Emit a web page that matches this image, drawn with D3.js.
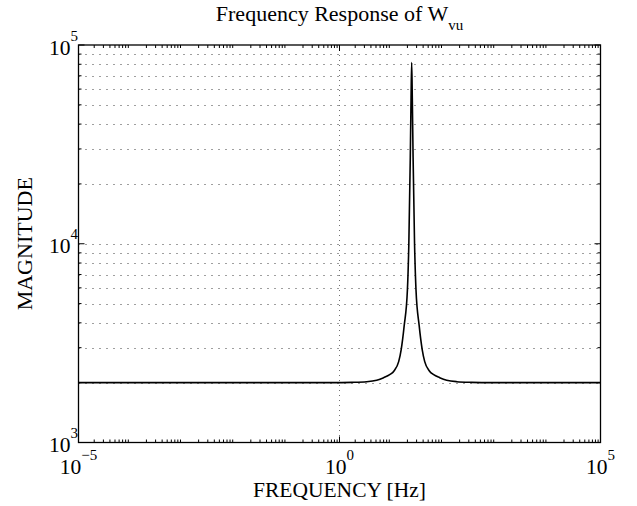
<!DOCTYPE html>
<html>
<head>
<meta charset="utf-8">
<script src="https://cdn.jsdelivr.net/npm/d3@7"></script>
<style>
  html, body { margin: 0; padding: 0; background: #fff; }
  svg { display: block; }
  text { font-family: "Liberation Serif", "Times New Roman", serif; fill: #000; }
</style>
</head>
<body>
<svg id="chart" width="637" height="506"></svg>
<script>
// ---- data ----
const freqHz = [1e-5, 0.71, 1.71, 3.32, 5.16, 7.02, 9.15, 11.16, 13.6, 15.2, 17.35, 20.0, 21.3, 22.7, 23.5,
                24.15,
                24.8, 25.7, 27.4, 29.2, 33.6, 38.4, 42.9, 52.3, 63.7, 83.1, 113, 176, 341, 823, 1e5];
const magnitude = [2000, 2000, 2007, 2023, 2059, 2120, 2193, 2298, 2551, 2934, 3870, 5870, 10000, 27100, 54300,
                   81700,
                   54300, 27100, 10000, 5870, 3870, 2934, 2551, 2298, 2193, 2120, 2059, 2023, 2007, 2000, 2000];
const xTickValues = [1e-5, 1, 1e5];
const xTickExponents = ["\u22125", "0", "5"];
const yTickValues = [1e3, 1e4, 1e5];
const yTickExponents = ["3", "4", "5"];
const titleMain = "Frequency Response of W";
const titleSub = "vu";
const xLabel = "FREQUENCY [Hz]";
const yLabel = "MAGNITUDE";

// ---- layout ----
const L = 78.5, R = 600.5, T = 45, B = 442.5;
const svg = d3.select("#chart");

const x = d3.scaleLog().domain([1e-5, 1e5]).range([L, R]);
const y = d3.scaleLog().domain([1e3, 1e5]).range([B, T]);

// minor tick values
function minorValues(lo, hi) {
  const out = [];
  for (let e = Math.log10(lo); e < Math.log10(hi); e++) {
    for (let k = 2; k <= 9; k++) out.push(k * Math.pow(10, e));
  }
  return out;
}
const xMinor = minorValues(1e-5, 1e5);
const yMinor = minorValues(1e3, 1e5);

// ---- grid ----
const grid = svg.append("g");
const yGridVals = yMinor.concat(yTickValues.slice(1, -1));
grid.selectAll("line.hg").data(yGridVals).enter().append("line")
  .attr("x1", L).attr("x2", R)
  .attr("y1", d => Math.round(y(d)) + 0.5).attr("y2", d => Math.round(y(d)) + 0.5)
  .attr("stroke", "#000").attr("stroke-width", 1)
  .attr("stroke-dasharray", "1,6").attr("opacity", 0.75);
grid.selectAll("line.vg").data(xTickValues.slice(1, -1)).enter().append("line")
  .attr("x1", d => Math.round(x(d)) - 0.5).attr("x2", d => Math.round(x(d)) - 0.5)
  .attr("y1", T).attr("y2", B)
  .attr("stroke", "#000").attr("stroke-width", 1)
  .attr("stroke-dasharray", "1,4").attr("opacity", 0.55);

// ---- data line ----
const line = d3.line()
  .x((d, i) => x(freqHz[i]))
  .y((d, i) => y(magnitude[i]))
  .curve(d3.curveMonotoneX);
svg.append("path")
  .datum(magnitude)
  .attr("d", line)
  .attr("fill", "none")
  .attr("stroke", "#000")
  .attr("stroke-width", 1.6)
  .attr("stroke-linejoin", "round");

// ---- axes box and ticks ----
const ax = svg.append("g").attr("stroke", "#000");
function addTicksX(vals, len) {
  vals.forEach(v => {
    const px = x(v);
    ax.append("line").attr("x1", px).attr("x2", px).attr("y1", B).attr("y2", B - len).attr("stroke-width", 1);
    ax.append("line").attr("x1", px).attr("x2", px).attr("y1", T).attr("y2", T + len).attr("stroke-width", 1);
  });
}
function addTicksY(vals, len) {
  vals.forEach(v => {
    const py = y(v);
    ax.append("line").attr("y1", py).attr("y2", py).attr("x1", L).attr("x2", L + len).attr("stroke-width", 1);
    ax.append("line").attr("y1", py).attr("y2", py).attr("x1", R).attr("x2", R - len).attr("stroke-width", 1);
  });
}
addTicksX(xMinor, 3);
addTicksX(xTickValues, 6);
addTicksY(yMinor, 3);
addTicksY(yTickValues, 6);
ax.append("rect").attr("x", L).attr("y", T).attr("width", R - L).attr("height", B - T)
  .attr("fill", "none").attr("stroke-width", 1.3);

// ---- tick labels ----
const xl = svg.append("g");
xTickValues.forEach((v, i) => {
  const t = xl.append("text").attr("x", x(v)).attr("y", 473.5)
    .attr("text-anchor", "middle").attr("font-size", 21.5);
  t.append("tspan").text("10");
  t.append("tspan").attr("dy", -14).attr("font-size", 15).text(xTickExponents[i]);
});
const yl = svg.append("g");
yTickValues.forEach((v, i) => {
  const t = yl.append("text").attr("x", L - 0.5).attr("y", y(v) + 9.5)
    .attr("text-anchor", "end").attr("font-size", 21.5);
  t.append("tspan").text("10");
  t.append("tspan").attr("dy", -14).attr("font-size", 15).text(yTickExponents[i]);
});

// ---- titles ----
const tt = svg.append("text").attr("x", (L + R) / 2).attr("y", 21)
  .attr("text-anchor", "middle").attr("font-size", 22);
tt.append("tspan").text(titleMain);
tt.append("tspan").attr("dy", 9).attr("font-size", 15).text(titleSub);

svg.append("text").attr("x", (L + R) / 2).attr("y", 497)
  .attr("text-anchor", "middle").attr("font-size", 21.5).text(xLabel);

svg.append("text")
  .attr("transform", `translate(32,${(T + B) / 2}) rotate(-90)`)
  .attr("text-anchor", "middle").attr("font-size", 22).text(yLabel);
</script>
</body>
</html>
